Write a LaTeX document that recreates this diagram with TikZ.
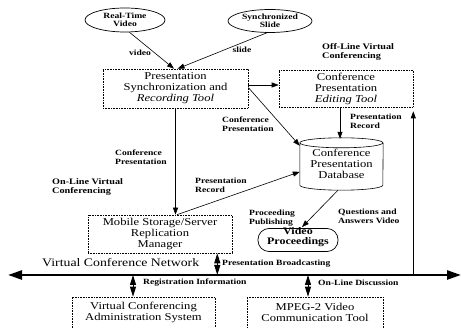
\documentclass[tikz,border=0pt]{standalone}
\usepackage{fontspec}
\setmainfont[FakeStretch=1.2]{Liberation Serif}
\usetikzlibrary{shapes.geometric,arrows.meta}
\begin{document}
\begin{tikzpicture}[x=1pt,y=-1pt,
  boxtxt/.style={font=\fontsize{10.5}{11}\selectfont, align=center},
  pbox/.style={draw, densely dotted, line width=0.6pt, boxtxt, inner sep=0pt},
  ell/.style={draw, ellipse, line width=0.7pt, inner sep=0pt, align=center, font=\bfseries\fontsize{8}{8.5}\selectfont},
  lbl/.style={font=\bfseries\fontsize{8}{8.8}\selectfont, align=left, inner sep=0pt},
  arr/.style={-{Triangle[length=7pt,width=5pt]}, line width=0.6pt},
  dbl/.style={{Triangle[length=10pt,width=6pt]}-{Triangle[length=10pt,width=6pt]}, line width=1pt},
  net/.style={{Triangle[length=14pt,width=9pt]}-{Triangle[length=14pt,width=9pt]}, line width=2.4pt}]
\useasboundingbox (0,0) rectangle (461,328);

% nodes
\node[ell, minimum width=80pt, minimum height=24pt] (rtv) at (125,20) {Real-Time\\Video};
\node[ell, minimum width=84pt, minimum height=23pt] (ss) at (270,21) {Synchronized\\Slide};
\node[pbox, minimum width=145pt, minimum height=39pt] (pst) at (175.5,88.5) {Presentation\\Synchronization and\\\textit{Recording Tool}};
\node[pbox, minimum width=134pt, minimum height=37pt] (edit) at (346,88.5) {Conference\\Presentation\\\textit{Editing Tool}};
\node[boxtxt, minimum width=83pt, minimum height=52pt, inner sep=0pt] (db) at (341.5,164) {\\[-4pt]Conference\\Presentation\\Database};
\draw[line width=0.6pt] ([yshift=-5pt]db.north west) arc[start angle=180,end angle=360,x radius=41.5pt,y radius=5pt]
  arc[start angle=0,end angle=180,x radius=41.5pt,y radius=5pt]
  -- ([yshift=5pt]db.south west) arc[start angle=180,end angle=360,x radius=41.5pt,y radius=5pt]
  -- ([yshift=-5pt]db.north east);
\node[pbox, minimum width=144pt, minimum height=38pt] (mob) at (160,234) {Mobile Storage/Server\\Replication\\Manager};
\node[draw, line width=0.7pt, rounded corners=11pt, minimum width=80pt, minimum height=23pt, inner sep=0pt, boxtxt, font=\bfseries\fontsize{10}{10.5}\selectfont] (vp) at (298,240) {\\[-9pt]Video\\Proceedings};
\node[pbox, minimum width=143pt, minimum height=31pt] (admin) at (143.5,312.5) {Virtual Conferencing\\Administration System};
\node[pbox, minimum width=136pt, minimum height=31pt] (mpeg) at (315,312.5) {MPEG-2 Video\\Communication Tool};

% network
\coordinate (nl) at (8,275);
\coordinate (nr) at (461,275);
\draw[net] (nl) -- (nr);
\node[anchor=west, inner sep=0pt, font=\fontsize{11.5}{12}\selectfont] (netlbl) at (42,263) {Virtual Conference Network};

% connectors
\draw[arr] (rtv.-70) -- ([xshift=-1.5pt]pst.north);
\draw[arr] (ss.-105) -- ([xshift=2pt]pst.north);
\draw[arr] ([yshift=3.5pt]pst.east) -- ([yshift=3.5pt]pst.east -| edit.west);
\draw[arr] ([yshift=1pt]pst.east) -- ([yshift=-8pt]db.north west);
\draw[arr] (pst.south) -- (pst.south |- mob.north);
\draw[arr] ([xshift=-6pt]edit.south) -- ([xshift=-6pt,yshift=-1pt]edit.south |- db.north);
\draw[arr] ([xshift=17pt]mob.north) -- ([yshift=-34pt]db.north west);
\draw[arr] ([xshift=-3.5pt]db.south) -- ([xshift=4pt,yshift=1pt]vp.north);
\draw[arr] (edit.south east |- nl) -- ([yshift=-4pt]edit.south east);
\draw[dbl] ([xshift=-15pt]mob.south east) -- ([xshift=-15pt]mob.south east |- nl);
\draw[dbl] ([xshift=-10.5pt]admin.north |- nl) -- ([xshift=-10.5pt]admin.north);
\draw[dbl] ([xshift=-7pt]mpeg.north |- nl) -- ([xshift=-7pt]mpeg.north);

% labels
\node[lbl] (lvideo) at (140,53) {video};
\node[lbl] (lslide) at (242,50) {slide};
\node[lbl, anchor=west, font=\bfseries\fontsize{8.5}{9.5}\selectfont] (loff) at (322,52) {Off-Line Virtual\\Conferencing};
\node[lbl, anchor=west] (lcp1) at (222,124) {Conference\\Presentation};
\node[lbl, anchor=west] (lcp2) at (115,157) {Conference\\Presentation};
\node[lbl, anchor=west] (lpr1) at (350,121) {Presentation\\Record};
\node[lbl, anchor=west] (lpr2) at (195,185) {Presentation\\Record};
\node[lbl, anchor=west, font=\bfseries\fontsize{8.5}{9.5}\selectfont] (lon) at (52,187) {On-Line Virtual\\Conferencing};
\node[lbl, anchor=west] (lpp) at (249,218) {Proceeding\\Publishing};
\node[lbl, anchor=west] (lqa) at (338,216) {Questions and\\Answers Video};
\node[lbl, anchor=west] (lpb) at (222,264) {Presentation Broadcasting};
\node[lbl, anchor=west] (lri) at (143,283) {Registration Information};
\node[lbl, anchor=west] (lod) at (318,283) {On-Line Discussion};
\end{tikzpicture}
\end{document}
